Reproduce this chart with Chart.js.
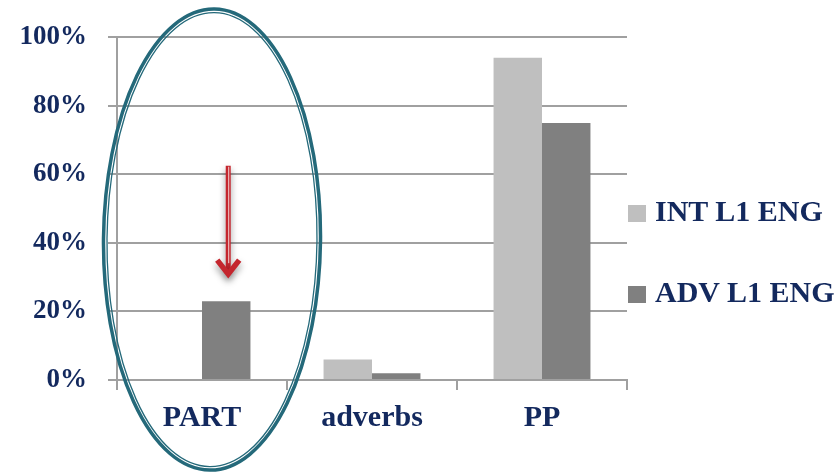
<!DOCTYPE html>
<html>
<head>
<meta charset="utf-8">
<title>Particles, adverbs and PPs</title>
<script src="https://cdn.jsdelivr.net/npm/chart.js@4.4.0/dist/chart.umd.min.js"></script>
<style>
  body { margin: 0; background: #fff; }
  #wrap { position: relative; width: 835px; height: 472px; }
  #legend { position: absolute; left: 628px; top: 193px; font-family: "Liberation Serif", serif; font-weight: bold; font-size: 30px; color: #13295e; }
  .item { display: flex; align-items: center; height: 36px; margin-bottom: 45px; white-space: nowrap; }
  .swatch { width: 18px; height: 17px; margin-right: 9px; margin-top: 4px; }
</style>
</head>
<body>
<div id="wrap">
  <canvas id="chart" width="835" height="472"></canvas>
  <div id="legend"></div>
</div>
<script>
const categories = ["PART", "adverbs", "PP"];
const seriesNames = ["INT L1 ENG", "ADV L1 ENG"];
const intValues = [0, 6, 94];
const advValues = [23, 2, 75];
const seriesColors = ["#bfbfbf", "#808080"];
const yTicks = [0, 20, 40, 60, 80, 100];

// arrow runs from 62.5% down to 30% over the PART / ADV bar
const arrowFrom = 62.5;
const arrowTo = 30;

const navy = "#13295e";
const gridColor = "#a0a0a0";
const font = { family: "'Liberation Serif', serif", weight: "bold" };

// ellipse around the PART group, plus the red arrow
const annotations = {
  id: "annotations",
  afterDraw(chart) {
    const ctx = chart.ctx;
    const x = chart.scales.x;
    const y = chart.scales.y;
    const bar = chart.getDatasetMeta(1).data[0];

    // arrow
    const ax = bar.x + 2;
    const top = y.getPixelForValue(arrowFrom);
    const tip = y.getPixelForValue(arrowTo);
    ctx.save();
    ctx.shadowColor = "rgba(0,0,0,0.4)";
    ctx.shadowBlur = 7;
    ctx.shadowOffsetY = 4;
    ctx.strokeStyle = "#c4262e";
    ctx.lineWidth = 5;
    ctx.beginPath();
    ctx.moveTo(ax, top);
    ctx.lineTo(ax, tip - 4);
    ctx.stroke();
    ctx.lineWidth = 5.5;
    ctx.lineJoin = "miter";
    ctx.beginPath();
    ctx.moveTo(ax - 11, tip - 17);
    ctx.lineTo(ax, tip - 3);
    ctx.lineTo(ax + 11, tip - 17);
    ctx.stroke();
    ctx.restore();
    ctx.save();
    ctx.strokeStyle = "#f4d4d4";
    ctx.lineWidth = 1;
    ctx.beginPath();
    ctx.moveTo(ax + 0.5, top + 1);
    ctx.lineTo(ax + 0.5, tip - 14);
    ctx.stroke();
    ctx.restore();

    // ellipse, double line: heavy outer stroke, thin inner one
    const cx = x.getPixelForValue(0) + 10;
    const cy = (chart.chartArea.top + chart.chartArea.bottom) / 2 + 31;
    ctx.save();
    ctx.strokeStyle = "#24697a";
    ctx.lineWidth = 3.5;
    ctx.beginPath();
    ctx.ellipse(cx, cy, 108.5, 230.5, 0.01, 0, Math.PI * 2);
    ctx.stroke();
    ctx.lineWidth = 1.3;
    ctx.beginPath();
    ctx.ellipse(cx, cy, 105, 227, 0.01, 0, Math.PI * 2);
    ctx.stroke();
    ctx.restore();
  }
};

const chart = new Chart(document.getElementById("chart"), {
  type: "bar",
  data: {
    labels: categories,
    datasets: [
      { label: seriesNames[0], data: intValues, backgroundColor: seriesColors[0] },
      { label: seriesNames[1], data: advValues, backgroundColor: seriesColors[1] },
    ],
  },
  options: {
    responsive: false,
    animation: false,
    events: [],
    categoryPercentage: 0.57,
    barPercentage: 1,
    layout: { padding: { top: 36, right: 208, bottom: 0, left: 0 } },
    plugins: {
      legend: { display: false },
      tooltip: { enabled: false },
    },
    scales: {
      x: {
        offset: true,
        grid: { offset: true, drawOnChartArea: false, tickLength: 10, color: gridColor, lineWidth: 2 },
        border: { color: gridColor, width: 2 },
        ticks: { color: navy, font: { ...font, size: 30 }, padding: 10 },
        afterFit: (s) => { s.height = 92; },
      },
      y: {
        min: 0,
        max: 100,
        afterBuildTicks: (s) => { s.ticks = yTicks.map((v) => ({ value: v })); },
        grid: { tickLength: 9, color: gridColor, lineWidth: 2 },
        border: { color: gridColor, width: 2 },
        ticks: { color: navy, font: { ...font, size: 27 }, padding: 21, callback: (v) => v + "%" },
        afterFit: (s) => { s.width = 117; },
      },
    },
  },
  plugins: [annotations],
});

// legend on the right
const legend = document.getElementById("legend");
seriesNames.forEach((name, i) => {
  const item = document.createElement("div");
  item.className = "item";
  const sw = document.createElement("span");
  sw.className = "swatch";
  sw.style.background = seriesColors[i];
  const label = document.createElement("span");
  label.textContent = name;
  item.appendChild(sw);
  item.appendChild(label);
  legend.appendChild(item);
});
</script>
</body>
</html>
